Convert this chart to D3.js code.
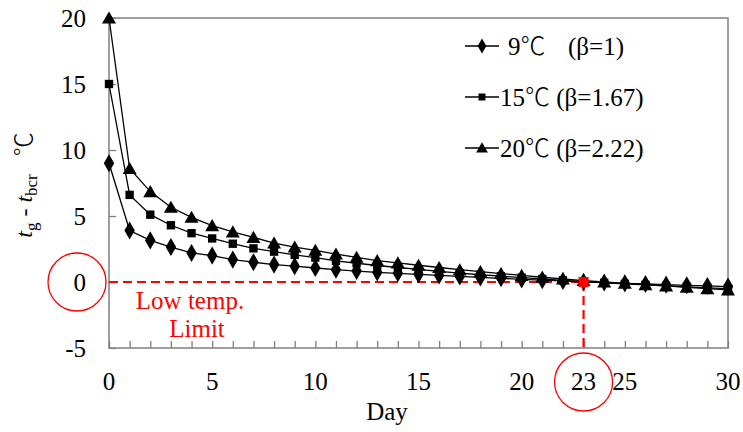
<!DOCTYPE html>
<html>
<head>
<meta charset="utf-8">
<script src="https://cdn.jsdelivr.net/npm/d3@7"></script>
<style>
  body { margin: 0; background: #fff; }
  svg, svg text, svg tspan { font-family: 'Liberation Serif', 'Times New Roman', Times, serif; }
  svg .cjk { font-family: 'Noto Sans CJK JP', 'Noto Sans CJK SC', sans-serif; font-weight: 300; }
</style>
</head>
<body>
<div id="chart"></div>
<script>
// days 0..30
var days = d3.range(0, 31);

// t_g - t_bcr
var t9 = [9, 3.9, 3.15, 2.65, 2.2, 2.0, 1.7, 1.5, 1.32, 1.2, 1.06, 0.93, 0.83, 0.73, 0.66, 0.58,
  0.5, 0.42, 0.35, 0.28, 0.2, 0.14, 0.08, 0.02, -0.04, -0.1, -0.15, -0.2, -0.25, -0.3, -0.35];
var t15 = [15, 6.6, 5.1, 4.3, 3.7, 3.3, 2.9, 2.55, 2.3, 2.05, 1.85, 1.6, 1.42, 1.25, 1.1, 0.95,
  0.8, 0.67, 0.55, 0.44, 0.33, 0.23, 0.13, 0.03, -0.06, -0.14, -0.22, -0.3, -0.37, -0.44, -0.5];
var t20 = [20, 8.6, 6.85, 5.66, 4.9, 4.27, 3.8, 3.38, 2.95, 2.65, 2.4, 2.12, 1.87, 1.62, 1.45, 1.27,
  1.1, 0.93, 0.78, 0.64, 0.5, 0.36, 0.24, 0.11, 0.0, -0.1, -0.2, -0.3, -0.4, -0.5, -0.6];

var seriesTemps = ["9", "15", "20"];
var seriesBetas = ["(\u03b2=1)", "(\u03b2=1.67)", "(\u03b2=2.22)"];
var seriesShapes = [d3.symbolDiamond, d3.symbolSquare, d3.symbolTriangle];
var seriesSizes = [95, 70, 85];

var xTicks = [0, 5, 10, 15, 20, 25, 30];
var yTicks = [-5, 0, 5, 10, 15, 20];
var limitDay = 23;

var width = 743, height = 432;
var margin = {left: 109, right: 15, top: 18, bottom: 84};
var fs = 25;

var svg = d3.select('#chart').append('svg')
  .attr('width', width)
  .attr('height', height);

var x = d3.scaleLinear().domain([0, 30]).range([margin.left, width - margin.right]);
var y = d3.scaleLinear().domain([-5, 20]).range([height - margin.bottom, margin.top]);

var axisColor = '#7f7f7f';

// frame
svg.append('rect')
  .attr('x', x(0)).attr('y', y(20))
  .attr('width', x(30) - x(0)).attr('height', y(-5) - y(20))
  .attr('fill', 'none').attr('stroke', axisColor).attr('stroke-width', 1.5);

// x axis, ticks inside, every day
var xAxis = svg.append('g')
  .attr('transform', 'translate(0,' + y(-5) + ')')
  .call(d3.axisBottom(x).tickValues(days).tickSize(-7).tickFormat(''));
xAxis.select('.domain').remove();
xAxis.selectAll('line').attr('stroke', axisColor).attr('stroke-width', 1.3);

svg.append('g').selectAll('text')
  .data(xTicks).enter().append('text')
  .attr('x', function(d) { return x(d); })
  .attr('y', y(-5) + 42)
  .attr('text-anchor', 'middle')
  .attr('font-size', fs)
  .text(function(d) { return d; });

// y axis
var yAxis = svg.append('g')
  .attr('transform', 'translate(' + x(0) + ',0)')
  .call(d3.axisLeft(y).tickValues(yTicks).tickSize(-7).tickFormat(''));
yAxis.select('.domain').remove();
yAxis.selectAll('line').attr('stroke', axisColor).attr('stroke-width', 1.3);

svg.append('g').selectAll('text')
  .data(yTicks).enter().append('text')
  .attr('x', x(0) - 23)
  .attr('y', function(d) { return y(d) + 8.5; })
  .attr('text-anchor', 'end')
  .attr('font-size', fs)
  .text(function(d) { return d; });

// axis titles
svg.append('text')
  .attr('x', 387).attr('y', 420)
  .attr('text-anchor', 'middle')
  .attr('font-size', fs)
  .text('Day');

var ylab = svg.append('text')
  .attr('transform', 'translate(32,185) rotate(-90)')
  .attr('text-anchor', 'middle')
  .attr('font-size', 24);
ylab.append('tspan').attr('font-style', 'italic').text('t');
ylab.append('tspan').attr('font-size', 17).attr('dy', 5).text('g');
ylab.append('tspan').attr('dy', -5).text(' - ');
ylab.append('tspan').attr('font-style', 'italic').text('t');
ylab.append('tspan').attr('font-size', 17).attr('dy', 5).text('bcr');
ylab.append('tspan').attr('dy', -5).text('\u00a0\u00a0\u00a0');
ylab.append('tspan').attr('class', 'cjk').text('\u2103');

// red limit marks
var red = '#ff0000';
svg.append('line')
  .attr('x1', x(0)).attr('x2', x(limitDay))
  .attr('y1', y(0)).attr('y2', y(0))
  .attr('stroke', red).attr('stroke-width', 2.2).attr('stroke-dasharray', '9,5');
svg.append('line')
  .attr('x1', x(limitDay)).attr('x2', x(limitDay))
  .attr('y1', y(0)).attr('y2', y(-5))
  .attr('stroke', red).attr('stroke-width', 2.2).attr('stroke-dasharray', '9,5');

svg.append('text')
  .attr('x', 190).attr('y', y(0) + 27)
  .attr('text-anchor', 'middle').attr('font-size', fs).attr('fill', red)
  .text('Low temp.');
svg.append('text')
  .attr('x', 197).attr('y', y(0) + 55)
  .attr('text-anchor', 'middle').attr('font-size', fs).attr('fill', red)
  .text('Limit');

// day 23 label
svg.append('text')
  .attr('x', x(limitDay)).attr('y', y(-5) + 42)
  .attr('text-anchor', 'middle')
  .attr('font-size', fs)
  .text(limitDay);

svg.append('circle')
  .attr('cx', x(0) - 32).attr('cy', y(0))
  .attr('r', 29).attr('fill', 'none').attr('stroke', red).attr('stroke-width', 1.3);
svg.append('circle')
  .attr('cx', x(limitDay)).attr('cy', y(-5) + 34)
  .attr('r', 29).attr('fill', 'none').attr('stroke', red).attr('stroke-width', 1.3);

// series
var allSeries = [t9, t15, t20];
var line = d3.line()
  .x(function(d, i) { return x(days[i]); })
  .y(function(d) { return y(d); });

allSeries.forEach(function(vals, k) {
  svg.append('path')
    .datum(vals)
    .attr('d', line)
    .attr('fill', 'none')
    .attr('stroke', '#000')
    .attr('stroke-width', 1.3);
});

allSeries.forEach(function(vals, k) {
  var sym = d3.symbol().type(seriesShapes[k]).size(seriesSizes[k]);
  svg.append('g').selectAll('path')
    .data(vals).enter().append('path')
    .attr('d', sym)
    .attr('transform', function(d, i) {
      var dy = k === 2 ? 1.5 : 0;
      return 'translate(' + x(days[i]) + ',' + (y(d) + dy) + ')';
    })
    .attr('fill', '#000');
});

// red square marking day 23
svg.append('rect')
  .attr('x', x(limitDay) - 5).attr('y', y(0) - 5)
  .attr('width', 10).attr('height', 10)
  .attr('fill', red);

// legend
var legendY = [46, 97, 148];
var lg = svg.append('g');
seriesTemps.forEach(function(name, k) {
  lg.append('line')
    .attr('x1', 465).attr('x2', 499)
    .attr('y1', legendY[k]).attr('y2', legendY[k])
    .attr('stroke', '#000').attr('stroke-width', 1.3);
  lg.append('path')
    .attr('d', d3.symbol().type(seriesShapes[k]).size(seriesSizes[k] * 0.7))
    .attr('transform', 'translate(482,' + (legendY[k] + (k === 2 ? 1 : 0)) + ')')
    .attr('fill', '#000');
  var t = lg.append('text')
    .attr('x', k === 0 ? 508 : 500).attr('y', legendY[k] + 8.5)
    .attr('font-size', fs);
  t.append('tspan').text(name);
  t.append('tspan').attr('class', 'cjk').text('\u2103');
  t.append('tspan').attr('x', k === 0 ? 568 : null).text(k === 0 ? seriesBetas[k] : ' ' + seriesBetas[k]);
});
</script>
</body>
</html>
